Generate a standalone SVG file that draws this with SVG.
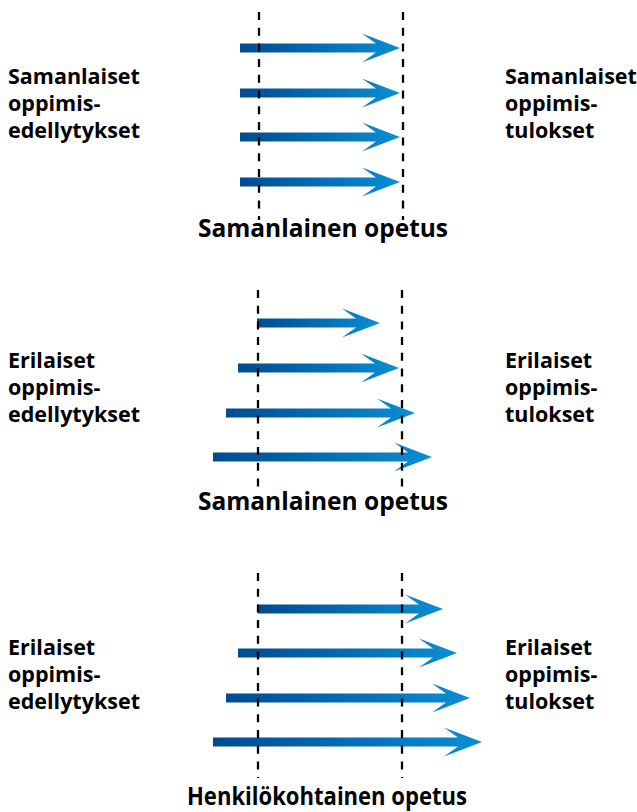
<svg xmlns="http://www.w3.org/2000/svg" width="637" height="812" viewBox="0 0 637 812">
<defs>
<linearGradient id="g" x1="0" y1="0" x2="1" y2="0">
<stop offset="0" stop-color="#004b91"/>
<stop offset="1" stop-color="#0a8ed3"/>
</linearGradient>
</defs>
<style>
.a{fill:url(#g)}
.d{stroke:#000;stroke-width:2.3;stroke-dasharray:8 7.7;fill:none}
.l{font-family:"Open Sans","Liberation Sans",sans-serif;font-weight:700;font-size:21.5px;fill:#000}
.t{font-family:"Open Sans","Liberation Sans",sans-serif;font-weight:700;font-size:24.5px;fill:#000;text-anchor:middle}
</style>
<rect width="637" height="812" fill="#fff"/>
<g id="panel1">
<g id="p1-arrows">
<path class="a" d="M240,43.5H376L362,33.5L400,48L362,62.5L376,52.5H240Z"/>
<path class="a" d="M240,88.5H376L362,78.5L400,93L362,107.5L376,97.5H240Z"/>
<path class="a" d="M240,132.5H376L362,122.5L400,137L362,151.5L376,141.5H240Z"/>
<path class="a" d="M240,177.5H376L362,167.5L400,182L362,196.5L376,186.5H240Z"/>
</g>
<g id="p1-lines">
<line class="d" x1="259" y1="12" x2="259" y2="220"/>
<line class="d" x1="403" y1="12" x2="403" y2="220"/>
</g>
<g id="p1-left"><text class="l" x="8" y="84">Samanlaiset</text><text class="l" x="8" y="111">oppimis-</text><text class="l" x="8" y="138">edellytykset</text></g>
<g id="p1-right"><text class="l" x="505" y="84">Samanlaiset</text><text class="l" x="505" y="111">oppimis-</text><text class="l" x="505" y="138">tulokset</text></g>
<text id="p1-title" class="t" x="323" y="237">Samanlainen opetus</text>
</g>
<g id="panel2">
<g id="p2-arrows">
<path class="a" d="M257,318.5H356L342,308.5L380,323L342,337.5L356,327.5H257Z"/>
<path class="a" d="M238,363.5H375L361,353.5L399,368L361,382.5L375,372.5H238Z"/>
<path class="a" d="M226,408.5H391L377,398.5L415,413L377,427.5L391,417.5H226Z"/>
<path class="a" d="M213,452.5H408L394,442.5L432,457L394,471.5L408,461.5H213Z"/>
</g>
<g id="p2-lines">
<line class="d" x1="258" y1="290" x2="258" y2="490"/>
<line class="d" x1="402" y1="290" x2="402" y2="490"/>
</g>
<g id="p2-left"><text class="l" x="8" y="368">Erilaiset</text><text class="l" x="8" y="395">oppimis-</text><text class="l" x="8" y="422">edellytykset</text></g>
<g id="p2-right"><text class="l" x="505" y="368">Erilaiset</text><text class="l" x="505" y="395">oppimis-</text><text class="l" x="505" y="422">tulokset</text></g>
<text id="p2-title" class="t" x="323" y="510">Samanlainen opetus</text>
</g>
<g id="panel3">
<g id="p3-arrows">
<path class="a" d="M258,604.5H419L405,594.5L443,609L405,623.5L419,613.5H258Z"/>
<path class="a" d="M238,648.5H433L419,638.5L457,653L419,667.5L433,657.5H238Z"/>
<path class="a" d="M226,693.5H446L432,683.5L470,698L432,712.5L446,702.5H226Z"/>
<path class="a" d="M213,737.5H458L444,727.5L482,742L444,756.5L458,746.5H213Z"/>
</g>
<g id="p3-lines">
<line class="d" x1="258" y1="573" x2="258" y2="778"/>
<line class="d" x1="402" y1="573" x2="402" y2="778"/>
</g>
<g id="p3-left"><text class="l" x="8" y="655">Erilaiset</text><text class="l" x="8" y="682">oppimis-</text><text class="l" x="8" y="709">edellytykset</text></g>
<g id="p3-right"><text class="l" x="505" y="655">Erilaiset</text><text class="l" x="505" y="682">oppimis-</text><text class="l" x="505" y="709">tulokset</text></g>
<text id="p3-title" class="t" x="327" y="805" textLength="280" lengthAdjust="spacingAndGlyphs">Henkilökohtainen opetus</text>
</g>
</svg>
